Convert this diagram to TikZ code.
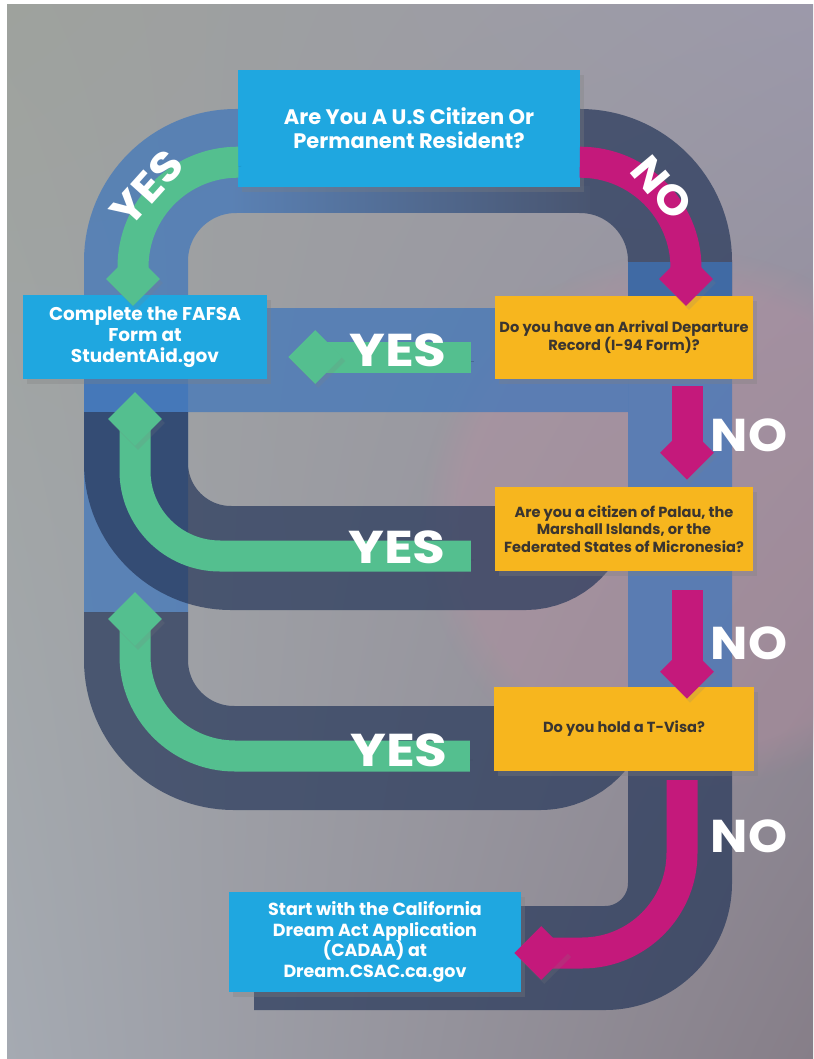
\documentclass[tikz,border=0pt]{standalone}
\usepackage{fontspec}
\setmainfont{Poppins}
\usetikzlibrary{shadows,shadings,shapes.geometric,calc,fadings}
\definecolor{boxblue}{RGB}{31,167,224}
\definecolor{boxorange}{RGB}{247,182,30}
\definecolor{mintg}{RGB}{84,191,143}
\definecolor{magen}{RGB}{196,25,123}
\definecolor{steel}{RGB}{61,117,188}
\definecolor{slate}{RGB}{37,54,89}
\definecolor{archL}{RGB}{90,129,180}
\definecolor{archR}{RGB}{73,85,112}
\definecolor{darktext}{RGB}{58,53,48}
\definecolor{bgUL}{RGB}{158,162,157}
\definecolor{bgUR}{RGB}{156,153,170}
\definecolor{bgLL}{RGB}{165,170,178}
\definecolor{bgLR}{RGB}{134,126,136}
\definecolor{pinkglow}{RGB}{188,142,160}
\begin{document}
\begin{tikzpicture}[x=1pt,y=-1pt,
  band/.style={line width=104pt},
  box/.style={rectangle, inner sep=0pt, align=center,
    drop shadow={shadow xshift=4pt,shadow yshift=-5pt,opacity=0.3}},
  bluebox/.style={box, fill=boxblue, text=white},
  orangebox/.style={box, fill=boxorange, text=darktext},
  ashadow/.style={preaction={draw=black, draw opacity=0.18,
    transform canvas={shift={(3pt,-4pt)}}}},
  yesarrow/.style={ashadow, draw=mintg, line width=31pt},
  noarrow/.style={ashadow, draw=magen, line width=31pt},
  headbase/.style={diamond, aspect=1, minimum size=54pt, inner sep=0pt,
    drop shadow={shadow xshift=3pt,shadow yshift=-4pt,opacity=0.18}},
  yeshead/.style={headbase, fill=mintg},
  nohead/.style={headbase, fill=magen},
  biglabel/.style={text=white, inner sep=0pt, font=\bfseries\fontsize{46}{46}\selectfont},
]
\useasboundingbox (0,0) rectangle (813,1059);
\fill[white] (0,0) rectangle (813,1059);
\shade[upper left=bgUL, upper right=bgUR, lower left=bgLL, lower right=bgLR] (7,5) rectangle (813,1059);
\fill[pinkglow, fill opacity=0.35, path fading=circle with fuzzy edge 15 percent] (690,520) circle (270);

% ---- background tracks ----
\begin{scope}[transparency group, opacity=0.7]
  \draw[band, steel, rounded corners=100] (408,161) -- (136,161) -- (136,300);
\end{scope}
\begin{scope}[transparency group, opacity=0.7]
  \draw[band, slate, rounded corners=100] (408,161) -- (680,161) -- (680,300);
\end{scope}
\shade[left color=archL, right color=archR] (230,187) rectangle (590,213);
\begin{scope}[transparency group, opacity=0.7]
  \draw[band, steel] (136,300) -- (136,612);
  \draw[band, steel] (680,262) -- (680,750);
\end{scope}
\begin{scope}[transparency group, opacity=0.7]
  \draw[band, steel] (84,360) -- (628,360);
\end{scope}
\begin{scope}[transparency group, opacity=0.7]
  \draw[band, slate, rounded corners=95] (136,412) -- (136,558) [rounded corners=55] -- (580,558) -- (580,500);
  \draw[band, slate, rounded corners=98] (136,612) -- (136,758) [rounded corners=60] -- (600,758) -- (600,690);
  \draw[band, slate, rounded corners=75] (680,740) -- (680,958) -- (254,958);
\end{scope}

% ---- boxes ----
\node[bluebox, minimum width=342pt, minimum height=117pt,
  font=\bfseries\fontsize{21}{24}\selectfont] (q0) at (409,128.5)
  {Are You A U.S Citizen Or\\Permanent Resident?};
\node[bluebox, minimum width=244pt, minimum height=84pt,
  font=\bfseries\fontsize{18.5}{21}\selectfont] (fafsa) at (145,337)
  {Complete the FAFSA\\Form at\\StudentAid.gov};
\node[orangebox, minimum width=258pt, minimum height=83pt,
  font=\bfseries\fontsize{14.6}{17}\selectfont] (q1) at (624,337.5)
  {Do you have an Arrival Departure\\Record (I-94 Form)?};
\node[orangebox, minimum width=258pt, minimum height=84pt,
  font=\bfseries\fontsize{14.6}{17.5}\selectfont] (q2) at (624,529)
  {Are you a citizen of Palau, the\\Marshall Islands, or the\\Federated States of Micronesia?};
\node[orangebox, minimum width=260pt, minimum height=84pt,
  font=\bfseries\fontsize{14.6}{17}\selectfont] (q3) at (624,729)
  {Do you hold a T-Visa?};
\node[bluebox, minimum width=292pt, minimum height=100pt,
  font=\bfseries\fontsize{17.5}{20.7}\selectfont] (cadaa) at (375,942)
  {Start with the California\\Dream Act Application\\(CADAA) at\\Dream.CSAC.ca.gov};

% ---- arrows ----
\coordinate (g1s) at ($(q0.south west)+(0,-25)$);
\coordinate (g1e) at (133,279);
\draw[yesarrow, rounded corners=105] (g1s) -| (g1e);
\node[yeshead] (h1) at (g1e) {};

\coordinate (m1s) at ($(q0.south east)+(0,-25)$);
\coordinate (m1e) at (686,279);
\draw[noarrow, rounded corners=106] (m1s) -| (m1e);
\node[nohead] (h2) at (m1e) {};

\coordinate (g2s) at ($(q1.west)+(-24,19.5)$);
\coordinate (g2e) at ($(fafsa.east)+(48,20)$);
\draw[yesarrow] (g2s) -- (g2e);
\node[yeshead] (h3) at (g2e) {};

\coordinate (g3s) at ($(q2.west)+(-24,27)$);
\coordinate (g3e) at (135,419);
\draw[yesarrow, rounded corners=85] (g3s) -| (g3e);
\node[yeshead] (h4) at (g3e) {};

\coordinate (g4s) at ($(q3.west)+(-24,27)$);
\coordinate (g4e) at (135,619);
\draw[yesarrow, rounded corners=100] (g4s) -| (g4e);
\node[yeshead] (h5) at (g4e) {};

\coordinate (m2s) at ($(q1.south)+(63,7)$);
\coordinate (m2e) at ($(q2.north)+(63,-34)$);
\draw[noarrow] (m2s) -- (m2e);
\node[nohead] (h6) at (m2e) {};

\coordinate (m3s) at ($(q2.south)+(63,19)$);
\coordinate (m3e) at ($(q3.north)+(63,-15)$);
\draw[noarrow] (m3s) -- (m3e);
\node[nohead] (h7) at (m3e) {};

\coordinate (m4s) at ($(q3.south)+(58,9)$);
\coordinate (m4e) at ($(cadaa.east)+(20,11)$);
\draw[noarrow, rounded corners=100] (m4s) |- (m4e);
\node[nohead] (h8) at (m4e) {};

% ---- labels ----
\node[biglabel, rotate=48, xscale=1.1, font=\bfseries\fontsize{42}{42}\selectfont] (ly0) at (147,188) {YES};
\node[biglabel, rotate=-50, xscale=1.05, font=\bfseries\fontsize{42}{42}\selectfont] (ln0) at (662,188) {NO};
\node[biglabel, xscale=1.16] (ly1) at (398,350) {YES};
\node[biglabel, xscale=1.16] (ly2) at (397,547) {YES};
\node[biglabel, xscale=1.16] (ly3) at (399,750) {YES};
\node[biglabel, xscale=1.08] (ln1) at (749,435) {NO};
\node[biglabel, xscale=1.08] (ln2) at (749,643) {NO};
\node[biglabel, xscale=1.08] (ln3) at (749,836) {NO};
\end{tikzpicture}
\end{document}
